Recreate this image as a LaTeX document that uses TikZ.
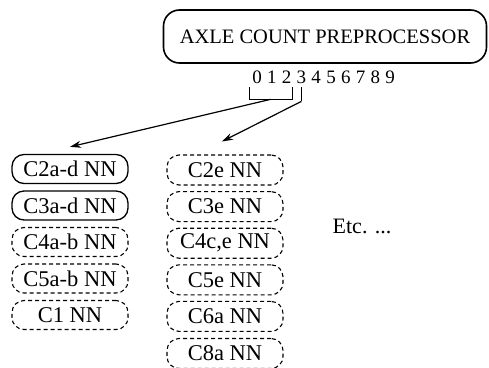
\documentclass[tikz,border=0pt]{standalone}
\usepackage{fontspec}
\setmainfont{Liberation Serif}
\usetikzlibrary{arrows.meta,calc}
\begin{document}
\begin{tikzpicture}[x=1pt,y=-1pt,
  nnbox/.style={draw, rounded corners=12pt, minimum width=116pt, minimum height=29pt,
    inner sep=0pt, line width=1.3pt, font=\fontsize{22.5}{25}\selectfont},
  dbox/.style={nnbox, line width=1.1pt, dash pattern=on 4pt off 3pt},
  tallbox/.style={dbox, minimum height=30pt},
  headbox/.style={draw, rounded corners=16pt, minimum width=323pt, minimum height=53pt,
    inner sep=0pt, line width=1.6pt, font=\fontsize{20.5}{24}\selectfont},
  digit/.style={inner sep=0pt, anchor=base, font=\fontsize{19}{21}\selectfont},
  bracketline/.style={line width=1.1pt},
  link/.style={-{Stealth[length=11pt,width=7pt]}, line width=1.2pt}]
\useasboundingbox (0,0) rectangle (489,367);

% preprocessor and its axle-count outputs
\node[headbox] (acp) at (325,36.5) {AXLE COUNT PREPROCESSOR};
\foreach \i in {0,...,9}
  \node[digit] (d\i) at ({257+14.8*\i},83) {\i};

% bracket grouping outputs 0-2, tick under output 3
\draw[bracketline] ($(d0.south west)+(-3,4)$) -- ++(0,12) coordinate (bl)
  -| ($(d2.south east)+(1,4)$);
\coordinate (bkt) at ($(bl)!0.5!($(d2.south east)+(1,16)$)$);
\draw[bracketline] ($(d3.south)+(0,4)$) -- ++(0,14) coordinate (tk);

% network columns
\node[nnbox] (c2ad) at (70,169) {C2a-d NN};
\node[nnbox] (c3ad) at (70,205.5) {C3a-d NN};
\node[dbox]  (c4ab) at (70,242) {C4a-b NN};
\node[dbox]  (c5ab) at (70,278.5) {C5a-b NN};
\node[dbox]  (c1)   at (70,315) {C1 NN};

\node[tallbox] (c2e)  at (225,170) {C2e NN};
\node[tallbox] (c3e)  at (225,206.6) {C3e NN};
\node[tallbox] (c4ce) at (225,243.2) {C4c,e NN};
\node[tallbox] (c5e)  at (225,279.8) {C5e NN};
\node[tallbox] (c6a)  at (225,316.4) {C6a NN};
\node[tallbox] (c8a)  at (225,353.5) {C8a NN};

\node[font=\fontsize{22}{25}\selectfont] (etc) at (362,226) {Etc. ...};

% routing arrows
\draw[link] (bkt) -- ($(c2ad.north)+(0,-7)$);
\draw[link] (tk) -- ($(c2e.north)+(-3,-13)$);
\end{tikzpicture}
\end{document}
